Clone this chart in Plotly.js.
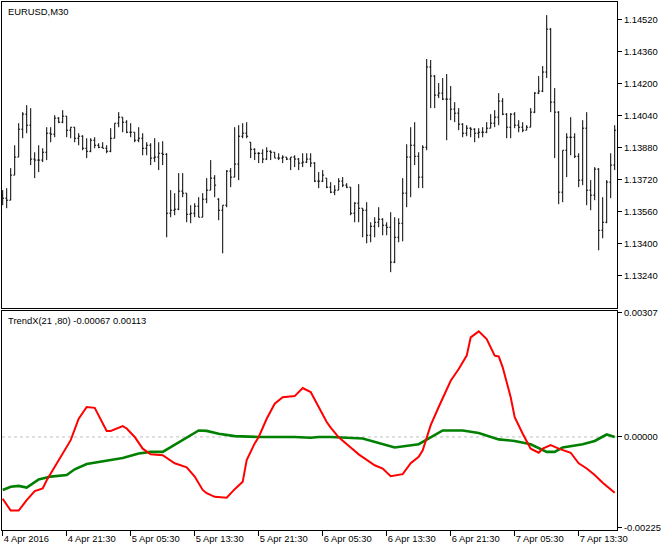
<!DOCTYPE html>
<html>
<head>
<meta charset="utf-8">
<script src="https://cdn.plot.ly/plotly-3.0.1.min.js"></script>
<style>
  html, body { margin: 0; padding: 0; background: #ffffff; }
  #chart { width: 669px; height: 550px; }
</style>
</head>
<body>
<div id="chart"></div>
<script>
// ---- EURUSD M30 bars (open / high / low / close), one per 30-minute bar ----
const opens = [
1.13643,1.13628,1.13618,1.13743,1.13833,1.13972,1.14047,1.13992,1.13823,1.13818,
1.13818,1.13857,1.13952,1.13947,1.14027,1.14007,1.14037,1.13967,1.13982,1.13927,
1.13937,1.13877,1.13862,1.13917,1.13892,1.13882,1.13877,1.13862,1.13927,1.14002,
1.14032,1.14007,1.13957,1.13957,1.13917,1.13927,1.13877,1.13892,1.13828,1.13833,
1.13852,1.13847,1.13553,1.13568,1.13573,1.13663,1.13653,1.13548,1.13553,1.13588,
1.13533,1.13623,1.13668,1.13728,1.13623,1.13568,1.13593,1.13763,1.13733,1.13798,
1.13937,1.13952,1.13907,1.13872,1.13852,1.13852,1.13823,1.13862,1.13857,1.13828,
1.13828,1.13833,1.13823,1.13833,1.13823,1.13803,1.13808,1.13823,1.13803,1.13713,
1.13713,1.13728,1.13683,1.13658,1.13668,1.13713,1.13693,1.13683,1.13553,1.13603,
1.13578,1.13568,1.13443,1.13488,1.13508,1.13523,1.13493,1.13483,1.13309,1.13433,
1.13503,1.13653,1.13833,1.13892,1.13837,1.13733,1.13882,1.14282,1.14237,1.14142,
1.14152,1.14122,1.14122,1.14072,1.14052,1.13997,1.13952,1.13977,1.13972,1.13952,
1.13957,1.13957,1.13977,1.14002,1.14032,1.14112,1.14047,1.13982,1.14047,1.13992,
1.13982,1.13967,1.13982,1.14057,1.14152,1.14162,1.14257,1.14471,1.14107,1.14057,
1.13658,1.13867,1.13932,1.13932,1.13837,1.13718,1.13977,1.13668,1.13643,1.13773,
1.13468,1.13508,1.13708,1.13793
];
const highs = [
1.13668,1.13678,1.13778,1.13892,1.14002,1.14057,1.14092,1.14077,1.13857,1.13892,
1.13877,1.13982,1.13982,1.14042,1.14032,1.14067,1.14037,1.13982,1.13982,1.13952,
1.13942,1.13927,1.13927,1.13932,1.13902,1.13907,1.13892,1.13977,1.14002,1.14057,
1.14032,1.14017,1.14002,1.13957,1.13982,1.13952,1.13907,1.13902,1.13927,1.13907,
1.13912,1.13852,1.13668,1.13653,1.13753,1.13753,1.13653,1.13593,1.13603,1.13633,
1.13653,1.13728,1.13818,1.13743,1.13628,1.13593,1.13768,1.13778,1.13982,1.13992,
1.14002,1.14007,1.13907,1.13877,1.13857,1.13872,1.13882,1.13867,1.13857,1.13852,
1.13842,1.13833,1.13833,1.13842,1.13828,1.13852,1.13852,1.13852,1.13808,1.13758,
1.13768,1.13728,1.13708,1.13693,1.13728,1.13733,1.13703,1.13683,1.13608,1.13698,
1.13578,1.13608,1.13508,1.13533,1.13583,1.13528,1.13508,1.13558,1.13533,1.13528,
1.13728,1.13897,1.13982,1.14007,1.13857,1.13892,1.14322,1.14317,1.14242,1.14202,
1.14227,1.14247,1.14187,1.14107,1.14077,1.14002,1.13992,1.13982,1.13977,1.13977,
1.13982,1.14007,1.14047,1.14067,1.14152,1.14127,1.14052,1.14052,1.14057,1.14017,
1.14007,1.13992,1.14077,1.14157,1.14237,1.14287,1.14541,1.14476,1.14177,1.14062,
1.13867,1.13952,1.14032,1.13952,1.13852,1.14017,1.14057,1.13718,1.13783,1.13778,
1.13633,1.13718,1.13852,1.13992
];
const lows = [
1.13593,1.13578,1.13618,1.13743,1.13833,1.13927,1.13952,1.13793,1.13728,1.13758,
1.13808,1.13818,1.13907,1.13932,1.14002,1.14002,1.13932,1.13927,1.13907,1.13892,
1.13867,1.13828,1.13857,1.13877,1.13877,1.13877,1.13852,1.13857,1.13927,1.13982,
1.13957,1.13952,1.13932,1.13907,1.13907,1.13842,1.13842,1.13793,1.13808,1.13768,
1.13793,1.13433,1.13533,1.13543,1.13568,1.13633,1.13508,1.13503,1.13533,1.13533,
1.13533,1.13603,1.13668,1.13633,1.13518,1.13353,1.13583,1.13683,1.13733,1.13718,
1.13927,1.13927,1.13828,1.13818,1.13803,1.13803,1.13818,1.13818,1.13828,1.13818,
1.13803,1.13818,1.13768,1.13783,1.13768,1.13783,1.13803,1.13783,1.13708,1.13678,
1.13708,1.13678,1.13653,1.13643,1.13668,1.13683,1.13678,1.13543,1.13508,1.13508,
1.13433,1.13403,1.13408,1.13433,1.13483,1.13443,1.13443,1.13259,1.13304,1.13408,
1.13413,1.13583,1.13633,1.13793,1.13678,1.13678,1.13867,1.14077,1.14077,1.14127,
1.14117,1.13917,1.14017,1.14007,1.13967,1.13932,1.13937,1.13932,1.13907,1.13927,
1.13932,1.13952,1.13977,1.13982,1.13992,1.14042,1.13927,1.13927,1.13977,1.13957,
1.13957,1.13967,1.13982,1.14052,1.14147,1.14157,1.14227,1.14057,1.13828,1.13598,
1.13608,1.13733,1.13842,1.13828,1.13683,1.13693,1.13593,1.13568,1.13618,1.13368,
1.13428,1.13503,1.13628,1.13768
];
const closes = [
1.13628,1.13618,1.13743,1.13833,1.13972,1.14047,1.13992,1.13823,1.13818,1.13818,
1.13857,1.13952,1.13947,1.14027,1.14007,1.14037,1.13967,1.13982,1.13927,1.13937,
1.13877,1.13862,1.13917,1.13892,1.13882,1.13877,1.13862,1.13927,1.14002,1.14032,
1.14007,1.13957,1.13957,1.13917,1.13927,1.13877,1.13892,1.13828,1.13833,1.13852,
1.13847,1.13553,1.13568,1.13573,1.13663,1.13653,1.13548,1.13553,1.13588,1.13533,
1.13623,1.13668,1.13728,1.13693,1.13568,1.13593,1.13763,1.13733,1.13798,1.13937,
1.13952,1.13937,1.13872,1.13852,1.13852,1.13823,1.13862,1.13857,1.13828,1.13828,
1.13833,1.13823,1.13833,1.13823,1.13803,1.13808,1.13823,1.13803,1.13713,1.13713,
1.13743,1.13683,1.13658,1.13668,1.13713,1.13693,1.13683,1.13553,1.13603,1.13578,
1.13568,1.13443,1.13488,1.13508,1.13523,1.13493,1.13483,1.13309,1.13433,1.13503,
1.13653,1.13833,1.13892,1.13837,1.13733,1.13882,1.14282,1.14237,1.14142,1.14152,
1.14122,1.14122,1.14072,1.14052,1.13997,1.13952,1.13977,1.13972,1.13952,1.13957,
1.13957,1.13977,1.14002,1.14032,1.14112,1.14047,1.13982,1.14047,1.13992,1.13982,
1.13967,1.13982,1.14057,1.14152,1.14162,1.14257,1.14471,1.14107,1.14057,1.13658,
1.13867,1.13932,1.13932,1.13837,1.13718,1.13977,1.13668,1.13643,1.13773,1.13468,
1.13508,1.13708,1.13793,1.13967
];

// ---- TrendX(21,80) indicator: red and green lines (bar index, value) ----
const redBars = [0,2,4,6,8,10,11,14,17,19,21,23,24,26,27,30,31,33,35,37,40,43,46,48,50,51,53,56,58,60,61,63,64,66,68,70,73,75,77,79,81,82,84,87,89,93,95,97,100,102,104,105,106,107,109,112,114,116,117,119,121,123,124,125,127,128,130,132,134,135,137,139,142,144,146,148,150,153];
const redVals = [-0.00153,-0.00182,-0.00182,-0.00156,-0.00134,-0.00127,-0.00107,-0.00057,-0.00008,0.00045,0.00074,0.00072,0.00053,0.00015,0.00015,0.00027,0.00021,0.00000,-0.00029,-0.00043,-0.00045,-0.00065,-0.00075,-0.00098,-0.00131,-0.00139,-0.00148,-0.00150,-0.00129,-0.00111,-0.00057,-0.00016,0.00000,0.00045,0.00082,0.00098,0.00101,0.00121,0.00111,0.00074,0.00037,0.00023,-0.00001,-0.00026,-0.00043,-0.00070,-0.00078,-0.00097,-0.00092,-0.00065,-0.00049,-0.00033,0.00000,0.00029,0.00074,0.00139,0.00168,0.00201,0.00246,0.00261,0.00242,0.00201,0.00199,0.00172,0.00098,0.00049,0.00008,-0.00029,-0.00039,-0.00029,-0.00020,-0.00029,-0.00039,-0.00065,-0.00078,-0.00094,-0.00113,-0.00138];
const greenBars = [0,2,4,6,9,12,16,18,21,24,27,30,34,37,40,42,45,47,49,51,54,58,64,73,77,79,82,90,95,98,104,106,110,115,119,124,128,132,136,138,140,145,148,151,153];
const greenVals = [-0.00131,-0.00123,-0.00121,-0.00125,-0.00105,-0.00098,-0.00094,-0.00080,-0.00067,-0.00062,-0.00057,-0.00052,-0.00041,-0.00037,-0.00037,-0.00025,-0.00008,0.00004,0.00016,0.00015,0.00008,0.00002,0.00000,0.00000,-0.00002,0.00000,0.00000,-0.00004,-0.00018,-0.00026,-0.00018,-0.00006,0.00016,0.00016,0.00010,-0.00006,-0.00010,-0.00018,-0.00037,-0.00037,-0.00026,-0.00018,-0.00010,0.00006,0.00000];

// ---- axis labels ----
const timeTickBars = [0,16,32,48,64,80,96,112,128,144];
const timeTickText = ["4 Apr 2016","4 Apr 21:30","5 Apr 05:30","5 Apr 13:30","5 Apr 21:30","6 Apr 05:30","6 Apr 13:30","6 Apr 21:30","7 Apr 05:30","7 Apr 13:30"];
const priceTicks = [1.13240,1.13400,1.13560,1.13720,1.13880,1.14040,1.14200,1.14360,1.14520];
const indTicks = [-0.00225,0.00000,0.00307];
const indTickText = ["-0.00225","0.00000","0.00307"];
const symbolTitle = "EURUSD,M30";
const indicatorTitle = "TrendX(21 ,80) -0.00067 0.00113";

const barX = closes.map((_, i) => i);
const FONT = "Liberation Sans, Arial, sans-serif";
const fs = 9.4;

const traces = [
  {
    type: "ohlc", x: barX, open: opens, high: highs, low: lows, close: closes,
    xaxis: "x2", yaxis: "y2",
    increasing: { line: { color: "#000000", width: 1 } },
    decreasing: { line: { color: "#000000", width: 1 } },
    tickwidth: 0.35, hoverinfo: "skip", showlegend: false
  },
  {
    type: "scatter", mode: "lines", x: greenBars, y: greenVals,
    xaxis: "x", yaxis: "y",
    line: { color: "#008000", width: 2.6 }, hoverinfo: "skip", showlegend: false
  },
  {
    type: "scatter", mode: "lines", x: redBars, y: redVals,
    xaxis: "x", yaxis: "y",
    line: { color: "#ff0000", width: 2 }, hoverinfo: "skip", showlegend: false
  }
];

const xRange = [-0.175, 153.575];
const botTop = 0.4153, topBot = 0.4205;

const layout = {
  width: 669, height: 550,
  margin: { l: 2, r: 52, t: 2, b: 20, pad: 0 },
  paper_bgcolor: "#ffffff", plot_bgcolor: "#ffffff",
  font: { family: FONT, size: fs, color: "#000000" },
  showlegend: false,
  xaxis: {
    domain: [0, 1], anchor: "y", range: xRange,
    showgrid: false, zeroline: false,
    showline: true, mirror: true, linecolor: "#000000", linewidth: 1,
    tickmode: "array", tickvals: timeTickBars, ticktext: timeTickText,
    ticks: "outside", ticklen: 5, tickcolor: "#000000", tickwidth: 1,
    ticklabelposition: "outside right",
    tickfont: { family: FONT, size: fs, color: "#000000" },
    rangeslider: { visible: false }, fixedrange: true
  },
  xaxis2: {
    domain: [0, 1], anchor: "y2", range: xRange, matches: "x",
    showgrid: false, zeroline: false,
    showline: true, mirror: true, linecolor: "#000000", linewidth: 1,
    showticklabels: false, ticks: "",
    rangeslider: { visible: false }, fixedrange: true
  },
  yaxis: {
    domain: [0, botTop], anchor: "x", side: "right",
    range: [-0.00230, 0.00312],
    showgrid: false, zeroline: false,
    showline: true, mirror: true, linecolor: "#000000", linewidth: 1,
    tickmode: "array", tickvals: indTicks, ticktext: indTickText,
    ticks: "outside", ticklen: 4, tickcolor: "#000000",
    tickfont: { family: FONT, size: fs, color: "#000000" },
    fixedrange: true
  },
  yaxis2: {
    domain: [topBot, 1], anchor: "x2", side: "right",
    range: [1.130805, 1.146063],
    showgrid: false, zeroline: false,
    showline: true, mirror: true, linecolor: "#000000", linewidth: 1,
    tickmode: "array", tickvals: priceTicks, tickformat: ".5f",
    ticks: "outside", ticklen: 4, tickcolor: "#000000",
    tickfont: { family: FONT, size: fs, color: "#000000" },
    fixedrange: true
  },
  shapes: [
    { type: "line", xref: "paper", yref: "y", x0: 0, x1: 1, y0: 0, y1: 0,
      line: { color: "#c0c0c0", width: 1, dash: "3px,3px" }, layer: "below" }
  ],
  annotations: [
    { text: symbolTitle, xref: "paper", yref: "paper", x: 0.0065, y: 1,
      xanchor: "left", yanchor: "top", yshift: -2, showarrow: false,
      font: { family: FONT, size: fs, color: "#000000" } },
    { text: indicatorTitle, xref: "paper", yref: "paper", x: 0.0065, y: botTop,
      xanchor: "left", yanchor: "top", yshift: -2, showarrow: false,
      font: { family: FONT, size: fs, color: "#000000" } }
  ]
};

Plotly.newPlot("chart", traces, layout, { staticPlot: true, displayModeBar: false });
</script>
</body>
</html>
